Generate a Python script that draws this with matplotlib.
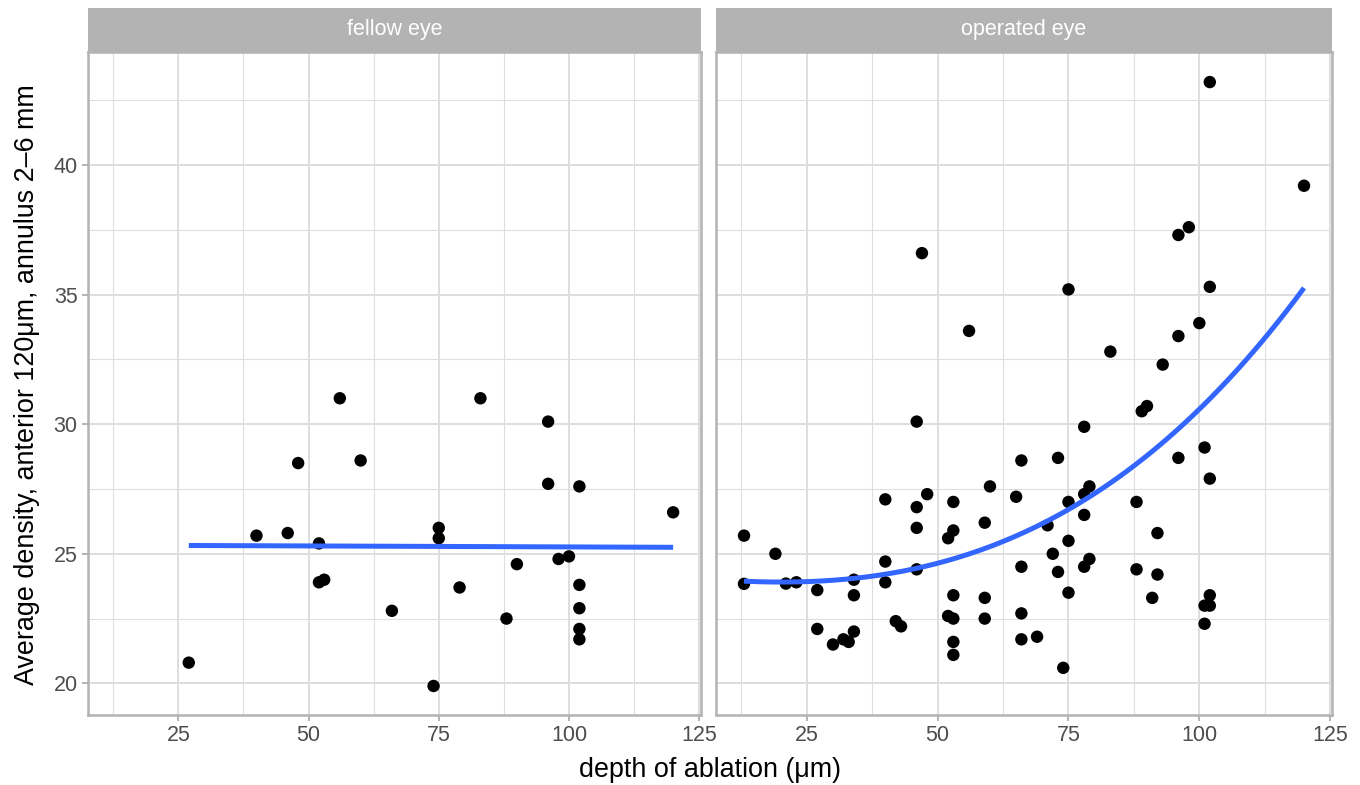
import matplotlib
matplotlib.use("Agg")
import matplotlib.pyplot as plt
import numpy as np
from matplotlib.patches import Rectangle

plt.rcParams['font.family'] = ['Liberation Sans', 'DejaVu Sans']

# ---------------- data ----------------
panel_titles = ["fellow eye", "operated eye"]

fellow_x = [27, 40, 46, 48, 52, 52, 53, 56, 60, 66, 74, 75, 75, 79, 83, 88, 90,
            96, 96, 98, 100, 102, 102, 102, 102, 102, 120]
fellow_y = [20.8, 25.7, 25.8, 28.5, 25.4, 23.9, 24.0, 31.0, 28.6, 22.8, 19.9, 26.0,
            25.6, 23.7, 31.0, 22.5, 24.6, 30.1, 27.7, 24.8, 24.9, 27.6, 23.8, 22.9,
            22.1, 21.7, 26.6]

operated_x = [13, 13, 19, 21, 23, 27, 27, 30, 32, 33, 34, 34, 34, 40, 40, 40, 42, 43,
              46, 46, 46, 46, 47, 48, 53, 52, 53, 53, 52, 53, 53, 53, 56, 59, 59, 59,
              60, 65, 66, 66, 66, 66, 69, 71, 72, 73, 73, 74, 75, 75, 75, 75, 78, 78,
              79, 78, 78, 79, 83, 88, 88, 89, 90, 91, 92, 92, 93, 96, 96, 96, 98, 100,
              101, 102, 102, 102, 102, 101, 102, 101, 120]
operated_y = [25.7, 23.84, 25.0, 23.85, 23.9, 23.6, 22.1, 21.5, 21.7, 21.6, 22.0, 23.4,
              24.0, 27.1, 24.7, 23.9, 22.4, 22.2, 30.1, 26.8, 26.0, 24.4, 36.6, 27.3,
              27.0, 25.6, 25.9, 23.4, 22.6, 22.5, 21.6, 21.1, 33.6, 26.2, 23.3, 22.5,
              27.6, 27.2, 28.6, 24.5, 22.7, 21.7, 21.8, 26.1, 25.0, 28.7, 24.3, 20.6,
              35.2, 27.0, 25.5, 23.5, 29.9, 27.3, 27.6, 26.5, 24.5, 24.8, 32.8, 27.0,
              24.4, 30.5, 30.7, 23.3, 25.8, 24.2, 32.3, 28.7, 33.4, 37.3, 37.6, 33.9,
              29.1, 27.9, 35.3, 43.2, 23.4, 23.0, 23.0, 22.3, 39.2]

# smooth (fitted) curves
fellow_fit_x = [27, 120]
fellow_fit_y = [25.32, 25.25]
operated_fit_x = [13, 20, 27, 34, 40, 46, 53, 59, 62, 68, 75, 81, 88, 94, 97, 104,
                  110, 117, 120]
operated_fit_y = [23.88, 23.93, 24.0, 24.08, 24.24, 24.44, 24.76, 25.17, 25.42, 26.0,
                  26.7, 27.45, 28.37, 29.45, 30.0, 31.5, 32.85, 34.45, 35.15]

x_major = [25, 50, 75, 100, 125]
x_minor = [12.5, 37.5, 62.5, 87.5, 112.5]
y_major = [20, 25, 30, 35, 40]
y_minor = [22.5, 27.5, 32.5, 37.5, 42.5]

xlim = (7.65, 125.35)
ylim = (18.78, 44.36)

x_title = "depth of ablation (μm)"
y_title = "Average density, anterior 120μm, annulus 2–6 mm"


def smooth_curve(xs, ys, deg):
    """Draw the read curve samples as a smooth line (least-squares polynomial)."""
    coef = np.polyfit(xs, ys, deg)
    xx = np.linspace(min(xs), max(xs), 200)
    return xx, np.polyval(coef, xx)


# ---------------- style ----------------
W, H = 1360, 785
fig = plt.figure(figsize=(W / 100, H / 100), dpi=100)
fig.patch.set_facecolor("white")

GRID = "#DEDEDE"
BORDER = "#B3B3B3"
STRIP = "#B3B3B3"
TICKLAB = "#4D4D4D"
BLUE = "#3366FF"

panel_px = [(88, 701), (716, 1332)]
top_px, bot_px = 52, 715
strip_top = 8

series = [(fellow_x, fellow_y, fellow_fit_x, fellow_fit_y, 1),
          (operated_x, operated_y, operated_fit_x, operated_fit_y, 3)]

for i, ((l, r), (sx, sy, fx, fy, deg), title) in enumerate(zip(panel_px, series, panel_titles)):
    ax = fig.add_axes([l / W, (H - bot_px) / H, (r - l) / W, (bot_px - top_px) / H])
    ax.set_xlim(*xlim)
    ax.set_ylim(*ylim)
    ax.set_xticks(x_major)
    ax.set_xticks(x_minor, minor=True)
    ax.set_yticks(y_major)
    ax.set_yticks(y_minor, minor=True)
    ax.grid(True, which="major", color=GRID, linewidth=1.4, zorder=0)
    ax.grid(True, which="minor", color=GRID, linewidth=0.8, zorder=0)
    ax.set_axisbelow(True)
    for sp in ax.spines.values():
        sp.set_color(BORDER)
        sp.set_linewidth(1.8)
        sp.set_zorder(5)
    ax.tick_params(axis="x", which="major", length=4.5, width=1.4, color=BORDER,
                   labelsize=15.5, labelcolor=TICKLAB, pad=3)
    ax.tick_params(axis="both", which="minor", length=0)
    if i == 0:
        ax.tick_params(axis="y", which="major", length=4.5, width=1.4, color=BORDER,
                       labelsize=15.5, labelcolor=TICKLAB, pad=3)
    else:
        ax.tick_params(axis="y", which="major", length=0, labelleft=False)

    ax.scatter(sx, sy, s=80, color="black", edgecolors="none", zorder=3)
    cx, cy = smooth_curve(fx, fy, deg)
    ax.plot(cx, cy, color=BLUE, linewidth=3.6, solid_capstyle="butt", zorder=4)

    # strip
    sax = fig.add_axes([l / W, (H - top_px) / H, (r - l) / W, (top_px - strip_top) / H])
    sax.set_xlim(0, 1)
    sax.set_ylim(0, 1)
    sax.axis("off")
    sax.add_patch(Rectangle((0, 0), 1, 1, facecolor=STRIP, edgecolor="none"))
    sax.text(0.5, 0.5, title, ha="center", va="center", color="white", fontsize=15.5)

fig.text((88 + 1332) / 2 / W, 1 - 770 / H, x_title, ha="center", va="center",
         fontsize=19.4, color="black")
fig.text(27 / W, 1 - 385 / H, y_title, ha="center", va="center", rotation=90,
         fontsize=19.4, color="black")

fig.savefig("out.png", dpi=100, facecolor="white")
